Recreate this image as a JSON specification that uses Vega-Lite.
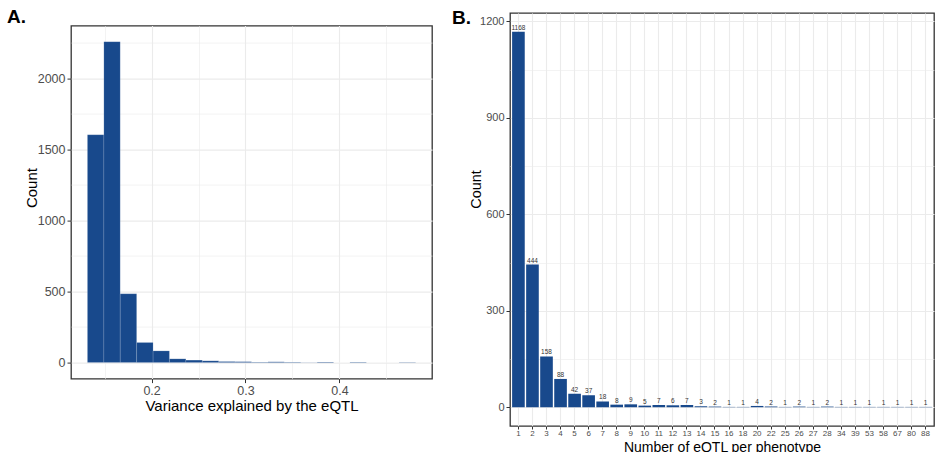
{
  "$schema": "https://vega.github.io/schema/vega-lite/v6.json",
  "padding": {"left": 6, "top": 7, "right": 0, "bottom": 0},
  "config": {
    "font": "Liberation Sans",
    "view": {"stroke": "#333333", "strokeWidth": 1.3},
    "axis": {
      "gridColor": "#ebebeb",
      "domain": false,
      "tickColor": "#333333",
      "tickSize": 4,
      "labelColor": "#4d4d4d",
      "titleColor": "#000000",
      "titleFontWeight": "normal",
      "labelPadding": 2
    },
    "title": {"color": "#000000"}
  },
  "datasets": {
    "hist": [
      {"bin_start": 0.1317, "bin_end": 0.1492, "count": 1603},
      {"bin_start": 0.1492, "bin_end": 0.1666, "count": 2258},
      {"bin_start": 0.1666, "bin_end": 0.1841, "count": 484},
      {"bin_start": 0.1841, "bin_end": 0.2016, "count": 141},
      {"bin_start": 0.2016, "bin_end": 0.2190, "count": 82},
      {"bin_start": 0.2190, "bin_end": 0.2365, "count": 26},
      {"bin_start": 0.2365, "bin_end": 0.2540, "count": 17},
      {"bin_start": 0.2540, "bin_end": 0.2715, "count": 12},
      {"bin_start": 0.2715, "bin_end": 0.2889, "count": 7},
      {"bin_start": 0.2889, "bin_end": 0.3064, "count": 6},
      {"bin_start": 0.3064, "bin_end": 0.3239, "count": 3},
      {"bin_start": 0.3239, "bin_end": 0.3413, "count": 5},
      {"bin_start": 0.3413, "bin_end": 0.3588, "count": 3},
      {"bin_start": 0.3588, "bin_end": 0.3763, "count": 1},
      {"bin_start": 0.3763, "bin_end": 0.3938, "count": 4},
      {"bin_start": 0.3938, "bin_end": 0.4112, "count": 0},
      {"bin_start": 0.4112, "bin_end": 0.4287, "count": 3},
      {"bin_start": 0.4287, "bin_end": 0.4462, "count": 0},
      {"bin_start": 0.4462, "bin_end": 0.4636, "count": 0},
      {"bin_start": 0.4636, "bin_end": 0.4811, "count": 2}
    ],
    "counts": [
      {"n": "1", "count": 1168}, {"n": "2", "count": 444}, {"n": "3", "count": 158},
      {"n": "4", "count": 88}, {"n": "5", "count": 42}, {"n": "6", "count": 37},
      {"n": "7", "count": 18}, {"n": "8", "count": 8}, {"n": "9", "count": 9},
      {"n": "10", "count": 5}, {"n": "11", "count": 7}, {"n": "12", "count": 6},
      {"n": "13", "count": 7}, {"n": "14", "count": 3}, {"n": "15", "count": 2},
      {"n": "16", "count": 1}, {"n": "18", "count": 1}, {"n": "20", "count": 4},
      {"n": "22", "count": 2}, {"n": "25", "count": 1}, {"n": "26", "count": 2},
      {"n": "27", "count": 1}, {"n": "28", "count": 2}, {"n": "34", "count": 1},
      {"n": "39", "count": 1}, {"n": "53", "count": 1}, {"n": "58", "count": 1},
      {"n": "67", "count": 1}, {"n": "80", "count": 1}, {"n": "88", "count": 1}
    ]
  },
  "bounds": "flush",
  "spacing": 439,
  "hconcat": [
    {
      "bounds": "flush",
      "spacing": 11.6,
      "vconcat": [
        {
          "width": 1,
          "height": 1,
          "view": {"stroke": null},
          "data": {"values": [{"t": ""}]},
          "mark": {"type": "text"},
          "encoding": {"text": {"field": "t"}}
        },
        {
          "width": 361,
          "height": 353,
          "title": {"text": "A.", "anchor": "start", "frame": "group", "fontSize": 19, "fontWeight": "bold", "baseline": "alphabetic", "offset": 0, "dx": -64, "dy": 16.5},
          "data": {"name": "hist"},
          "mark": {"type": "rect", "color": "#18498c", "stroke": "#ffffff", "strokeOpacity": 0.25, "strokeWidth": 0.5},
          "encoding": {
            "x": {
              "field": "bin_start", "type": "quantitative",
              "scale": {"domain": [0.1142, 0.4986], "nice": false, "zero": false},
              "axis": {
                "values": [0.15, 0.2, 0.25, 0.3, 0.35, 0.4, 0.45],
                "format": ".1f",
                "labelExpr": "abs(datum.value*10 - round(datum.value*10)) > 0.01 ? '' : datum.label",
                "tickOpacity": {"condition": {"test": "abs(datum.value*10 - round(datum.value*10)) > 0.01", "value": 0}, "value": 1},
                "gridWidth": {"condition": {"test": "abs(datum.value*10 - round(datum.value*10)) > 0.01", "value": 0.6}, "value": 1.1},
                "labelFontSize": 12.5,
                "title": "Variance explained by the eQTL",
                "titleFontSize": 15,
                "titlePadding": 1
              }
            },
            "x2": {"field": "bin_end"},
            "y": {
              "field": "count", "type": "quantitative",
              "scale": {"domain": [-113, 2371], "nice": false, "zero": false},
              "axis": {
                "values": [0, 250, 500, 750, 1000, 1250, 1500, 1750, 2000, 2250],
                "format": "d",
                "labelExpr": "datum.value % 500 != 0 ? '' : datum.label",
                "tickOpacity": {"condition": {"test": "datum.value % 500 != 0", "value": 0}, "value": 1},
                "gridWidth": {"condition": {"test": "datum.value % 500 != 0", "value": 0.6}, "value": 1.1},
                "labelFontSize": 12.5,
                "title": "Count",
                "titleFontSize": 15,
                "titlePadding": -2,
                "titleY": 162
              }
            },
            "y2": {"datum": 0}
          }
        }
      ]
    },
    {
      "width": 424,
      "height": 413,
      "title": {"text": "B.", "anchor": "start", "frame": "group", "fontSize": 19, "fontWeight": "bold", "baseline": "alphabetic", "offset": 0, "dx": -58, "dy": 30},
      "data": {"name": "counts"},
      "encoding": {
        "x": {
          "field": "n", "type": "ordinal", "sort": null,
          "scale": {"paddingInner": 0.1, "paddingOuter": 0.15},
          "axis": {
            "labelAngle": 0,
            "grid": true,
            "gridWidth": 1.1,
            "labelFontSize": 8,
            "labelPadding": 0,
            "tickSize": 3,
            "title": "Number of eQTL per phenotype",
            "titleFontSize": 14,
            "titlePadding": 3
          }
        },
        "y": {
          "field": "count", "type": "quantitative",
          "scale": {"domain": [-58.4, 1226.4], "nice": false, "zero": false},
          "axis": {
            "values": [0, 150, 300, 450, 600, 750, 900, 1050, 1200],
            "format": "d",
            "labelExpr": "datum.value % 300 != 0 ? '' : datum.label",
            "tickOpacity": {"condition": {"test": "datum.value % 300 != 0", "value": 0}, "value": 1},
            "gridWidth": {"condition": {"test": "datum.value % 300 != 0", "value": 0.6}, "value": 1.1},
            "labelFontSize": 11,
            "title": "Count",
            "titleFontSize": 14.5,
            "titlePadding": -4,
            "titleY": 176
          }
        }
      },
      "layer": [
        {
          "mark": {"type": "bar", "color": "#18498c"},
          "encoding": {"y2": {"datum": 0}}
        },
        {
          "mark": {"type": "text", "fontSize": 6.5, "baseline": "bottom", "dy": -1, "color": "#333333"},
          "encoding": {"text": {"field": "count", "type": "quantitative"}}
        }
      ]
    }
  ]
}
